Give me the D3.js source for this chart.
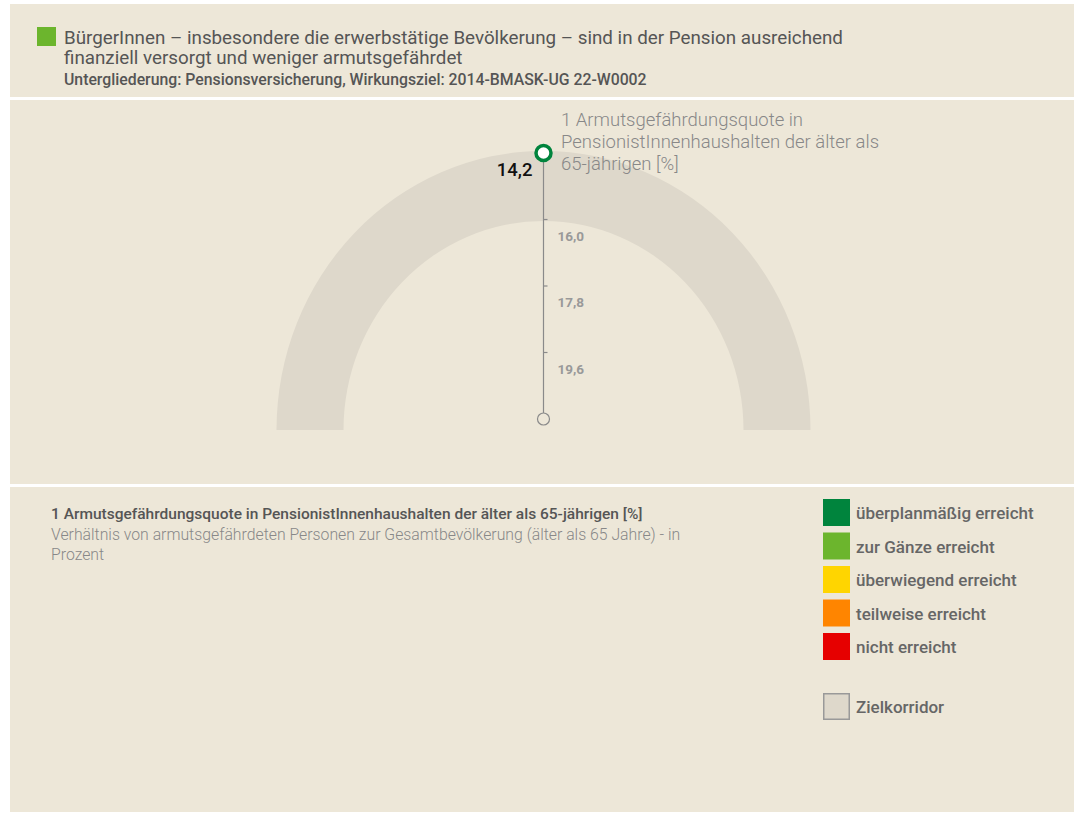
<!DOCTYPE html>
<html>
<head>
<meta charset="utf-8">
<script src="https://cdn.jsdelivr.net/npm/d3@7"></script>
<style>
  body { margin: 0; background: #fff; font-family: Roboto, "Noto Sans", sans-serif; }
  svg { display: block; }
</style>
</head>
<body>
<svg id="chart" width="1074" height="813"></svg>
<script>
// --- data
const titleLines = ['BürgerInnen – insbesondere die erwerbstätige Bevölkerung – sind in der Pension ausreichend',
                    'finanziell versorgt und weniger armutsgefährdet'];
const subtitle = 'Untergliederung: Pensionsversicherung, Wirkungsziel: 2014-BMASK-UG 22-W0002';
const indicatorLines = ['1 Armutsgefährdungsquote in', 'PensionistInnenhaushalten der älter als', '65-jährigen [%]'];
const indicatorTitle = '1 Armutsgefährdungsquote in PensionistInnenhaushalten der älter als 65-jährigen [%]';
const descLines = ['Verhältnis von armutsgefährdeten Personen zur Gesamtbevölkerung (älter als 65 Jahre) - in', 'Prozent'];
const scaleDomain = [14.2, 21.4];
const tickValues = [16.0, 17.8, 19.6];
const actualValue = 14.2;
const legendLabels = ['überplanmäßig erreicht', 'zur Gänze erreicht', 'überwiegend erreicht', 'teilweise erreicht', 'nicht erreicht'];
const legendColors = ['#00843d', '#6cb52d', '#ffd500', '#ff8500', '#e60000'];

const svg = d3.select('#chart');
const fmt = v => d3.format('.1f')(v).replace('.', ',');

// panel background + dividers
svg.append('rect').attr('x', 10).attr('y', 4).attr('width', 1064).attr('height', 808).attr('fill', '#ede7d8');
svg.append('rect').attr('x', 10).attr('y', 97).attr('width', 1064).attr('height', 3).attr('fill', '#fff');
svg.append('rect').attr('x', 10).attr('y', 484).attr('width', 1064).attr('height', 3).attr('fill', '#fff');

// header
svg.append('rect').attr('x', 37).attr('y', 27).attr('width', 19).attr('height', 19).attr('fill', legendColors[1]);
svg.append('g').selectAll('text').data(titleLines).enter().append('text')
    .attr('x', 64).attr('y', (d, i) => 44 + i * 20)
    .attr('font-size', 18.8).attr('font-weight', 400).attr('fill', '#555')
    .text(d => d);
svg.append('text').attr('x', 64).attr('y', 85)
    .attr('font-size', 15.8).attr('font-weight', 500).attr('fill', '#555')
    .text(subtitle);

// gauge (slightly taller than wide, as in the original)
const cx = 543.5, cy = 430, outerR = 267, innerR = 200;
const arc = d3.arc().innerRadius(innerR).outerRadius(outerR)
    .startAngle(-Math.PI / 2).endAngle(Math.PI / 2);
svg.append('path').attr('d', arc()).attr('transform', `translate(${cx},${cy}) scale(1,1.045)`).attr('fill', '#ded8cb');

const y = d3.scaleLinear().domain(scaleDomain).range([153, 419]);
svg.append('line').attr('x1', cx).attr('x2', cx).attr('y1', y(scaleDomain[0])).attr('y2', y(scaleDomain[1]))
    .attr('stroke', '#8a8a8a').attr('stroke-width', 1.2);
const ticks = svg.append('g').selectAll('g').data(tickValues).enter().append('g');
ticks.append('line').attr('x1', cx).attr('x2', cx + 4).attr('y1', d => y(d)).attr('y2', d => y(d))
    .attr('stroke', '#8a8a8a').attr('stroke-width', 1.2);
ticks.append('text').attr('x', cx + 14).attr('y', d => y(d) + 21)
    .attr('font-size', 13.5).attr('font-weight', 700).attr('fill', '#999')
    .text(d => fmt(d));

svg.append('circle').attr('cx', cx).attr('cy', y(scaleDomain[1])).attr('r', 6)
    .attr('fill', '#ede7d8').attr('stroke', '#8a8a8a').attr('stroke-width', 1.2);
svg.append('circle').attr('cx', cx).attr('cy', y(actualValue)).attr('r', 7.5)
    .attr('fill', '#fff').attr('stroke', legendColors[0]).attr('stroke-width', 3.5);
svg.append('text').attr('x', cx - 11).attr('y', y(actualValue) + 23).attr('text-anchor', 'end')
    .attr('font-size', 18.5).attr('font-weight', 500).attr('fill', '#111')
    .text(fmt(actualValue));
svg.append('g').selectAll('text').data(indicatorLines).enter().append('text')
    .attr('x', 561).attr('y', (d, i) => 126 + i * 22)
    .attr('font-size', 18.5).attr('font-weight', 300).attr('fill', '#888')
    .text(d => d);

// description
svg.append('text').attr('x', 51).attr('y', 519)
    .attr('font-size', 15.5).attr('font-weight', 500).attr('fill', '#555')
    .text(indicatorTitle);
svg.append('g').selectAll('text').data(descLines).enter().append('text')
    .attr('x', 51).attr('y', (d, i) => 540 + i * 20)
    .attr('font-size', 15.8).attr('font-weight', 300).attr('fill', '#888')
    .text(d => d);

// legend
const leg = svg.append('g').selectAll('g').data(legendLabels).enter().append('g')
    .attr('transform', (d, i) => `translate(823,${499 + i * 33.5})`);
leg.append('rect').attr('width', 27).attr('height', 27).attr('fill', (d, i) => legendColors[i]);
leg.append('text').attr('x', 33).attr('y', 20)
    .attr('font-size', 17).attr('font-weight', 500).attr('fill', '#666')
    .text(d => d);
const zk = svg.append('g').attr('transform', 'translate(823,693)');
zk.append('rect').attr('x', 0.75).attr('y', 0.75).attr('width', 25.5).attr('height', 25.5)
    .attr('fill', '#ded8cb').attr('stroke', '#999').attr('stroke-width', 1.5);
zk.append('text').attr('x', 33).attr('y', 20)
    .attr('font-size', 17).attr('font-weight', 500).attr('fill', '#666')
    .text('Zielkorridor');
</script>
</body>
</html>
